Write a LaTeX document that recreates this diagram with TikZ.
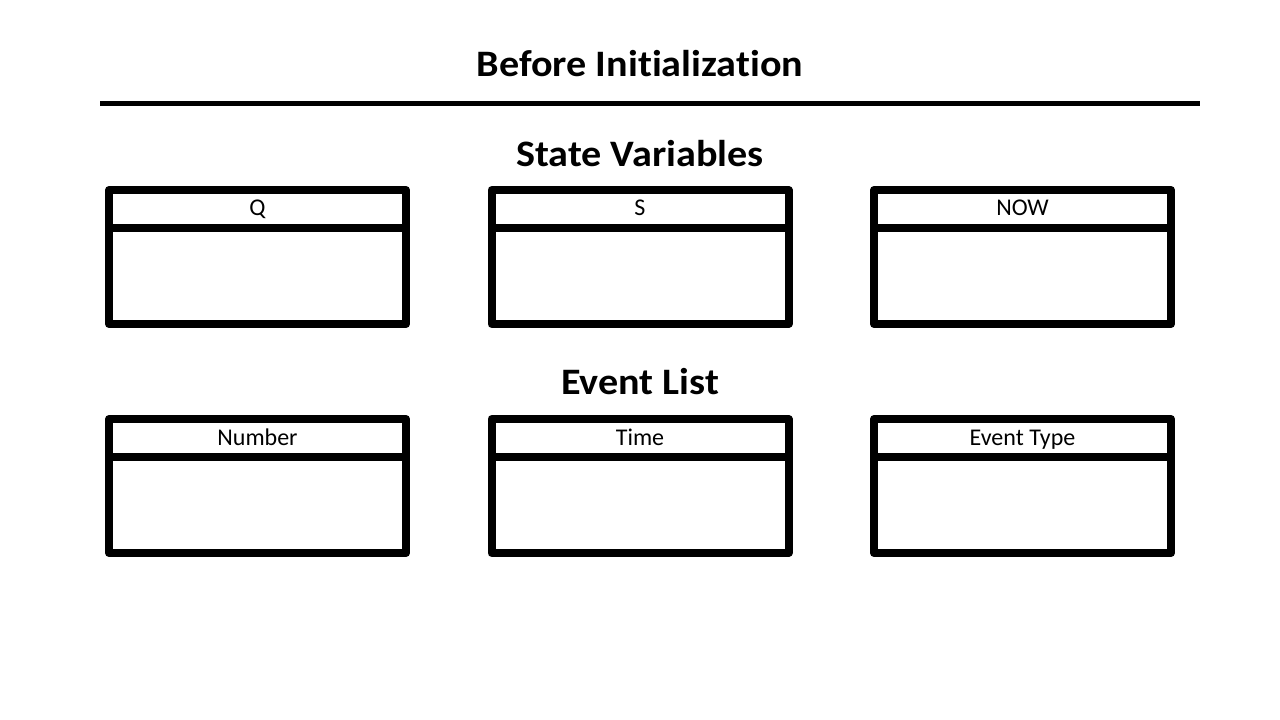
\documentclass[tikz,border=0pt]{standalone}
\usepackage{fontspec}
\usepackage{graphicx}
\setmainfont{Carlito}[Ligatures=NoCommon]
\newcommand{\widettl}[1]{\scalebox{1.075}[1]{#1}}
\begin{document}
\begin{tikzpicture}[x=0.75pt,y=-0.75pt,
  varbox/.style={draw=black,line width=6pt,line join=round,outer sep=0pt,minimum width=222.75pt,minimum height=100.5pt,inner sep=0pt},
  sep/.style={line width=6pt},
  hdr/.style={font=\fontsize{18}{20}\selectfont,inner sep=0pt,anchor=base},
  ttl/.style={font=\bfseries\fontsize{28}{32}\selectfont,inner sep=0pt,anchor=base}]
\useasboundingbox (0,0) rectangle (1280,720);
\node[ttl] (title) at (640,77) {\widettl{Before Initialization}};
\coordinate (rl) at (100,104);
\coordinate (rr) at (1200,104);
\draw[line width=3.75pt] (rl) -- (rr);
\node[ttl] (sv) at (640,167) {\widettl{State Variables}};
\node[ttl] (el) at (640,394) {\widettl{Event List}};
% state variable boxes
\node[varbox] (bq) at (257.5,257) {};
\node[varbox] (bs) at (640,257) {};
\node[varbox] (bn) at (1022.5,257) {};
% event list boxes
\node[varbox] (bnum) at (257.5,486) {};
\node[varbox] (bt) at (640,486) {};
\node[varbox] (be) at (1022.5,486) {};
\foreach \b/\t in {bq/Q,bs/S,bn/NOW,bnum/Number,bt/Time,be/Event Type}{
  \draw[sep] ([yshift=-28.5pt]\b.north west) -- ([yshift=-28.5pt]\b.north east);
  \node[hdr] (\b-h) at ([yshift=-19.5pt]\b.north) {\t};
}
\end{tikzpicture}
\end{document}
